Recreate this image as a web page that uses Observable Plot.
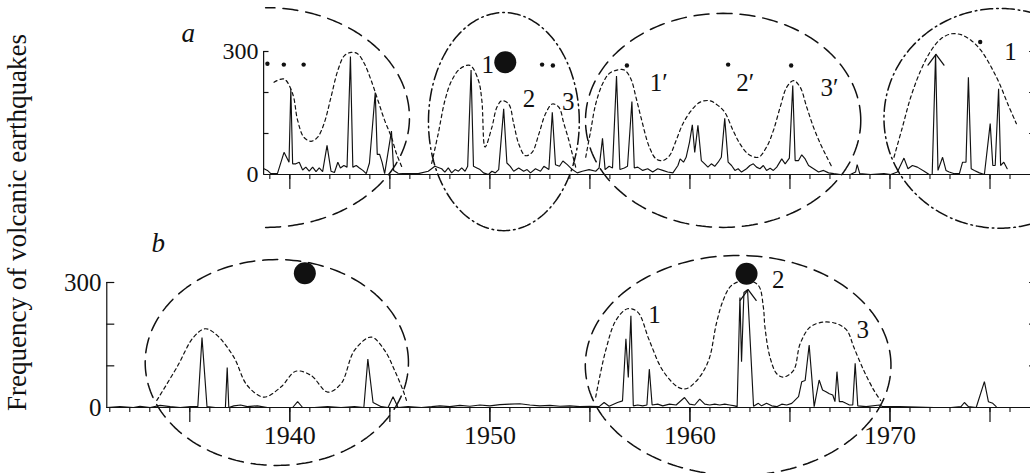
<!DOCTYPE html>
<html>
<head>
<meta charset="utf-8">
<script src="https://cdn.jsdelivr.net/npm/d3@7"></script>
<script src="https://cdn.jsdelivr.net/npm/@observablehq/plot@0.6"></script>
<style>
  body { margin: 0; background: #fff; }
  #chart { position: relative; width: 1030px; height: 473px; overflow: hidden; background: #fff;
           font-family: "Liberation Serif", Tinos, "Times New Roman", Times, "Noto Serif", "DejaVu Serif", FreeSerif, serif; color: #111; }
  #chart svg { position: absolute; left: 0; display: block; }
  #ylabel { position: absolute; left: 4px; top: 411px; transform: rotate(-90deg); transform-origin: 0 0;
            white-space: nowrap; font-size: 27px; line-height: 27px; color: #111; font-family: inherit; }
</style>
</head>
<body>
<div id="chart"><div id="ylabel">Frequency of volcanic earthquakes</div></div>
<script>
// ---------------- data ----------------
// Panel a: frequency of volcanic earthquakes [year, count]
const seriesA = [
  [1938.71,14],[1938.88,10],[1939.05,2],[1939.38,2],[1939.71,54],[1939.88,38],[1939.96,30],[1940.05,209],
  [1940.14,26],[1940.30,26],[1940.47,30],[1940.64,11],[1940.80,18],[1940.97,8],[1941.14,18],[1941.31,7],
  [1941.47,16],[1941.64,7],[1941.86,71],[1942.06,8],[1942.23,5],[1942.40,30],[1942.53,16],[1942.70,22],
  [1942.86,18],[1943.03,288],[1943.15,18],[1943.32,22],[1943.48,16],[1943.65,10],[1943.82,2],[1943.98,28],
  [1944.27,200],[1944.37,49],[1944.49,49],[1944.61,30],[1944.74,2],[1945.08,106],[1945.19,10],[1945.41,3],
  [1945.91,2],[1946.42,2],[1946.92,8],[1947.25,20],[1947.59,14],[1947.75,6],[1947.92,16],[1948.09,4],
  [1948.26,12],[1948.43,8],[1948.59,16],[1948.76,8],[1948.89,20],[1949.06,255],[1949.18,20],[1949.35,16],
  [1949.51,12],[1949.68,4],[1949.93,0],[1950.10,8],[1950.27,4],[1950.44,12],[1950.69,160],[1950.85,28],
  [1951.02,20],[1951.19,8],[1951.44,16],[1951.69,8],[1951.86,12],[1952.03,4],[1952.28,14],[1952.53,8],
  [1952.70,20],[1952.95,12],[1953.12,152],[1953.28,24],[1953.48,20],[1953.65,33],[1953.87,24],[1954.12,12],
  [1954.37,4],[1954.62,8],[1954.96,12],[1955.29,8],[1955.46,16],[1955.63,88],[1955.76,12],[1955.96,20],
  [1956.13,16],[1956.33,240],[1956.50,12],[1956.72,16],[1956.88,20],[1957.10,178],[1957.22,16],[1957.39,18],
  [1957.64,10],[1957.89,14],[1958.14,6],[1958.39,14],[1958.64,10],[1958.89,6],[1959.15,4],[1959.40,22],
  [1959.51,38],[1959.68,30],[1959.81,42],[1959.98,79],[1960.12,121],[1960.24,54],[1960.40,120],[1960.57,34],
  [1960.74,26],[1960.90,18],[1961.07,26],[1961.24,20],[1961.41,30],[1961.57,42],[1961.74,137],[1961.91,30],
  [1962.08,22],[1962.25,10],[1962.41,14],[1962.58,6],[1962.83,14],[1963.00,22],[1963.17,26],[1963.33,18],
  [1963.50,14],[1963.67,22],[1963.83,10],[1964.01,15],[1964.17,10],[1964.34,18],[1964.59,38],[1964.76,26],
  [1964.97,40],[1965.14,217],[1965.26,34],[1965.43,34],[1965.59,48],[1965.76,38],[1965.93,22],[1966.18,14],
  [1966.43,6],[1966.68,10],[1966.93,4],[1967.19,2],[1967.52,0],[1968.02,0],[1968.28,6],[1968.36,24],
  [1968.49,2],[1969.03,0],[1969.70,2],[1970.04,0],[1970.37,6],[1970.70,40],[1970.90,14],[1971.12,22],
  [1971.37,18],[1971.71,8],[1971.96,0],[1972.11,0],[1972.28,293],[1972.40,10],[1972.63,42],[1972.80,10],
  [1972.96,6],[1973.22,2],[1973.47,2],[1973.63,30],[1973.80,30],[1973.92,237],[1974.06,14],[1974.22,10],
  [1974.47,4],[1974.72,0],[1975.01,124],[1975.14,22],[1975.26,22],[1975.43,209],[1975.53,22],[1975.69,30],
  [1975.86,14]
];
// Panel a: smooth envelope curves (short-dashed)
const envA1 = [[1939.21,225],[1939.71,233],[1940.14,197],[1940.39,132],[1940.70,91],[1941.06,81],[1941.39,91],
  [1941.71,124],[1942.06,189],[1942.40,254],[1942.73,290],[1943.07,298],[1943.40,294],[1943.73,270],[1944.07,229],
  [1944.41,180],[1944.74,132],[1945.08,91],[1945.33,51],[1945.63,15]];
const envA2 = [[1947.09,27],[1947.42,100],[1947.75,180],[1948.09,229],[1948.51,258],[1949.01,266],[1949.43,229],
  [1949.60,180],[1949.76,67],[1950.10,115],[1950.35,164],[1950.60,180],[1950.94,172],[1951.19,124],[1951.44,75],
  [1951.77,46],[1952.11,54],[1952.45,99],[1952.78,148],[1953.12,172],[1953.45,164],[1953.70,124],[1953.95,83],
  [1954.12,50],[1954.29,18]];
const envA3 = [[1954.79,42],[1955.04,107],[1955.29,172],[1955.63,221],[1955.96,246],[1956.30,254],[1956.72,255],
  [1957.05,233],[1957.30,189],[1957.55,140],[1957.97,67],[1958.31,38],[1958.64,34],[1958.98,46],[1959.31,83],
  [1959.65,124],[1960.07,156],[1960.49,176],[1960.99,180],[1961.41,168],[1961.74,152],[1962.16,107],[1962.50,75],
  [1962.91,50],[1963.42,42],[1963.83,67],[1964.17,107],[1964.51,164],[1964.84,213],[1965.18,229],[1965.51,213],
  [1965.84,164],[1966.18,115],[1966.52,75],[1966.85,42],[1967.10,18]];
const envA4 = [[1970.20,42],[1970.62,115],[1971.04,189],[1971.54,254],[1972.05,302],[1972.55,331],[1973.05,343],
  [1973.55,341],[1974.06,327],[1974.56,302],[1975.06,262],[1975.48,221],[1975.89,172],[1976.32,124]];
// Panel a: outline ellipses [centre year, centre value, half-width (yr), half-height, start deg, end deg]
const ellipsesA = [
  [1938.79,139,7.19,268,-90,90],
  [1950.70,129,3.77,266,0,360],
  [1961.66,132,6.88,261,0,360],
  [1975.48,137,5.78,268,72,288]
];
const smallDotsA = [[1938.88,270],[1939.70,268],[1940.69,268],[1952.61,268],[1953.15,266],[1956.85,266],
  [1961.91,268],[1965.06,266],[1974.51,323]];
const bigDotsA = [[1950.77,274]];
const labelTextA = ["1","2","3","1\u2032","2\u2032","3\u2032","1"];
const labelPosA = [[1949.90,266],[1951.96,183],[1953.92,176],[1958.44,224],[1962.76,222],[1966.98,210],[1976.03,298]];
const offScaleA = [[1972.30,293]];

// Panel b
const seriesB = [
  [1930.84,0],[1931.51,2],[1932.18,0],[1932.51,3],[1933.02,0],[1933.52,5],[1934.02,2],[1934.52,0],[1935.03,2],
  [1935.40,2],[1935.61,168],[1935.86,2],[1936.28,0],[1936.78,0],[1936.87,96],[1936.95,0],[1937.20,4],[1937.54,6],
  [1937.87,2],[1938.38,4],[1938.88,0],[1939.55,0],[1940.14,0],[1940.39,14],[1940.64,0],[1941.22,0],[1941.89,2],
  [1942.56,0],[1943.23,2],[1943.70,0],[1943.90,116],[1944.16,12],[1944.57,2],[1944.91,0],[1945.16,26],[1945.41,0],
  [1945.91,2],[1946.58,0],[1947.09,2],[1947.5,4],[1948.0,2],[1948.5,5],[1949.0,3],[1949.5,6],[1950.0,4],[1950.5,7],
  [1951.0,8],[1951.5,9],[1952.0,6],[1952.5,4],[1953.0,5],[1953.5,3],[1954.0,4],[1954.5,2],[1955.0,3],[1955.46,2],
  [1955.71,12],[1955.96,3],[1956.38,12],[1956.63,16],[1956.80,165],[1956.92,72],[1957.05,220],[1957.17,4],
  [1957.39,6],[1957.64,4],[1957.85,6],[1957.97,92],[1958.11,6],[1958.39,8],[1958.64,4],[1958.98,8],[1959.31,6],
  [1959.73,24],[1959.98,8],[1960.24,6],[1960.49,20],[1960.74,8],[1960.99,6],[1961.24,8],[1961.49,6],[1961.74,8],
  [1961.99,6],[1962.24,4],[1962.36,2],[1962.50,264],[1962.58,110],[1962.70,276],[1962.88,283],[1963.18,3],
  [1963.42,10],[1963.58,4],[1963.83,10],[1964.09,4],[1964.34,2],[1964.59,8],[1964.84,6],[1965.09,10],[1965.18,14],
  [1965.43,26],[1965.59,62],[1965.76,65],[1965.96,150],[1966.21,2],[1966.46,66],[1966.63,42],[1966.80,38],
  [1966.97,33],[1967.14,30],[1967.25,14],[1967.35,86],[1967.47,14],[1967.64,14],[1967.80,10],[1967.97,6],
  [1968.14,6],[1968.26,106],[1968.39,4],[1968.81,2],[1969.48,6],[1969.65,2],[1970.49,2],[1971.37,1],[1972.21,0],
  [1973.05,0],[1973.55,2],[1973.72,12],[1973.92,2],[1974.31,0],[1974.72,62],[1974.92,14],[1975.14,10],[1975.31,2]
];
const envB1 = [[1933.35,17],[1934.36,97],[1935.19,169],[1935.78,189],[1936.37,173],[1937.20,121],[1937.87,53],
  [1938.71,25],[1939.55,49],[1940.30,87],[1941.06,77],[1941.89,37],[1942.56,57],[1943.23,137],[1944.07,169],
  [1944.74,137],[1945.24,89],[1945.66,41],[1945.83,17]];
const envB2 = [[1955.29,25],[1955.79,137],[1956.30,209],[1956.88,237],[1957.39,229],[1957.97,161],[1958.64,89],
  [1959.40,49],[1959.81,45],[1960.25,60],[1960.65,85],[1960.99,121],[1961.32,201],[1961.66,257],[1962.08,293],
  [1962.83,305],[1963.42,293],[1963.67,241],[1963.75,193],[1964.00,121],[1964.34,81],[1964.67,73],[1965.18,89],
  [1965.51,153],[1966.01,193],[1966.68,205],[1967.35,201],[1967.85,185],[1968.19,145],[1968.69,89],[1969.20,41],
  [1969.53,17]];
const ellipsesB = [
  [1939.35,108,6.58,247,0,360],
  [1962.41,101,7.64,264,0,360]
];
const bigDotsB = [[1940.75,322],[1962.83,321]];
const labelTextB = ["1","2","3"];
const labelPosB = [[1958.23,223],[1964.42,305],[1968.64,187]];
const offScaleB = [[1962.91,283]];

// axis ticks
const yTickLabels = [0, 300];
const yInnerTicks = [100, 200, 300];
const xMinorA = d3.range(1939, 1977);
const xMinorB = d3.range(1931, 1977);
const xMajor = [1935, 1940, 1945, 1950, 1955, 1960, 1965, 1970, 1975];
const xMajorA = [1940, 1945, 1950, 1955, 1960, 1965, 1970, 1975];
const xLabelsB = [1940, 1950, 1960, 1970];

// ---------------- drawing ----------------
const FONT = "inherit";
const INK = "#111";
const DASH = "15,8";
const DASHDOT = "12,4,1.6,4";
const ENV = "3.5,3.2";

function ellipsePts([cx, cy, rx, ry, t0, t1]) {
  const n = 200;
  return d3.range(n + 1).map(i => {
    const t = (t0 + (t1 - t0) * i / n) * Math.PI / 180;
    return [cx + rx * Math.cos(t), cy + ry * Math.sin(t)];
  });
}
function chevron([x, v]) { return [[x - 0.4, v - 26], [x, v], [x + 0.4, v - 26]]; }
const X = d => d[0], Y = d => d[1];

function panel({height, zeroPx, topPx, axisStart, series, envs, ellipses, ellStyles, smallDots, bigDots,
                labelText, labelPos, offScale, minor, major, xLabels, inTick, panelLetter, yFont}) {
  const marks = [];
  ellipses.forEach((e, i) => marks.push(Plot.line(ellipsePts(e), {x: X, y: Y, stroke: INK, strokeWidth: 1.5,
      strokeDasharray: ellStyles[i] === "dash" ? DASH : DASHDOT})));
  envs.forEach(env => marks.push(Plot.line(env, {x: X, y: Y, curve: "catmull-rom", stroke: INK,
      strokeWidth: 1.2, strokeDasharray: ENV})));
  marks.push(Plot.line(series, {x: X, y: Y, stroke: INK, strokeWidth: 1.15, strokeLinejoin: "miter"}));
  offScale.forEach(o => marks.push(Plot.line(chevron(o), {x: X, y: Y, stroke: INK, strokeWidth: 1.3})));
  // axes
  marks.push(Plot.ruleX([axisStart], {y1: 0, y2: 300, stroke: INK, strokeWidth: 1.2}));
  marks.push(Plot.ruleY([0], {x1: axisStart, x2: 1977.4, stroke: INK, strokeWidth: 1.2}));
  marks.push(Plot.ruleY(yInnerTicks, {x1: axisStart, x2: axisStart + inTick, stroke: INK, strokeWidth: 1.2}));
  marks.push(Plot.ruleY(yInnerTicks, {x1: 1976.98, x2: 1977.4, stroke: INK, strokeWidth: 1.2}));
  marks.push(Plot.axisX(minor, {tickSize: 5, tickFormat: () => "", stroke: INK, strokeWidth: 1.1}));
  marks.push(Plot.axisX(major, {tickSize: 15, tickFormat: () => "", stroke: INK, strokeWidth: 1.2}));
  if (xLabels) marks.push(Plot.axisX(xLabels, {tickSize: 15, tickPadding: 3, tickFormat: d => String(d),
      fontSize: 26, fill: INK, stroke: INK}));
  marks.push(Plot.axisY(yTickLabels, {tickSize: 0, tickPadding: 5, tickFormat: d => String(d),
      fontSize: yFont, fill: INK}));
  // markers and labels
  marks.push(Plot.dot(smallDots, {x: X, y: Y, r: 2.2, fill: INK, stroke: null}));
  marks.push(Plot.dot(bigDots, {x: X, y: Y, r: 11, fill: INK, stroke: null}));
  marks.push(Plot.text(labelPos, {x: X, y: Y, text: (d, i) => labelText[i], fontSize: 25, fill: INK}));
  marks.push(Plot.text([panelLetter], {x: d => d[0], y: d => d[1], text: d => d[2], fontSize: 27,
      fontStyle: "italic", fill: INK}));
  return Plot.plot({
    width: 1030, height,
    marginLeft: Math.round(189.3 + (axisStart - 1935) * 20.005), marginRight: 0, marginTop: 0,
    marginBottom: height - zeroPx,
    x: {domain: [1935, 1975], range: [189.3, 989.5], axis: null},
    y: {domain: [0, 300], range: [zeroPx, topPx], axis: null},
    style: {overflow: "visible", background: "none", fontFamily: FONT, color: INK},
    marks
  });
}

const plotA = panel({
  height: 238, zeroPx: 174, topPx: 51, axisStart: 1938.69,
  series: seriesA, envs: [envA1, envA2, envA3, envA4],
  ellipses: ellipsesA, ellStyles: ["dash", "dashdot", "dash", "dashdot"],
  smallDots: smallDotsA, bigDots: bigDotsA, labelText: labelTextA, labelPos: labelPosA,
  offScale: offScaleA, minor: xMinorA, major: xMajorA, xLabels: null, inTick: 0.27,
  panelLetter: [1934.92, 344, "a"], yFont: 24
});
const plotB = panel({
  height: 235, zeroPx: 169, topPx: 44, axisStart: 1930.85,
  series: seriesB, envs: [envB1, envB2],
  ellipses: ellipsesB, ellStyles: ["dash", "dash"],
  smallDots: [], bigDots: bigDotsB, labelText: labelTextB, labelPos: labelPosB,
  offScale: offScaleB, minor: xMinorB, major: xMajor, xLabels: xLabelsB, inTick: 0.4,
  panelLetter: [1933.42, 394, "b"], yFont: 25
});
plotA.style.top = "0px";
plotB.style.top = "238px";
const chart = document.getElementById("chart");
chart.appendChild(plotA);
chart.appendChild(plotB);
</script>
</body>
</html>
